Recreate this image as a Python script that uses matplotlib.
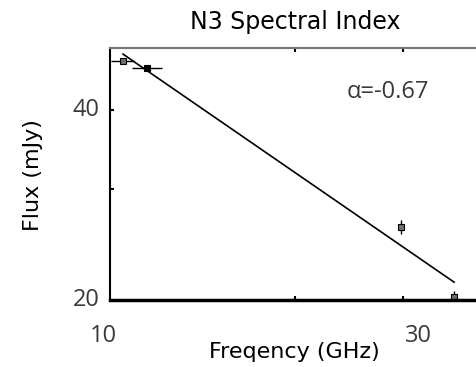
import numpy as np
from matplotlib import pyplot as plt

# flux measurements of N3
freq = [10.5, 11.5, 29.8, 36.3]          # GHz
flux = [47.8, 46.5, 26.1, 20.2]          # mJy
freq_err = [0.45, 0.65, 0.0, 0.0]
flux_err = [0.25, 0.3, 0.7, 0.5]
filled = [False, True, False, False]

# power-law fit S = s0 * (nu / nu0) ** alpha
alpha = -0.67
nu0, s0 = 10.5, 49.0
fit_range = [10.5, 36.3]

x_ticks = [10, 30]
y_ticks = [20, 40]

fig = plt.figure(figsize=(4.76, 3.67), dpi=100)
ax = fig.add_axes([110 / 476, 67 / 367, 370 / 476, 252 / 367])
ax.set_xscale('log')
ax.set_yscale('log')
ax.set_xlim(10, 40)
ax.set_ylim(20, 50.1)

nu = np.linspace(fit_range[0], fit_range[1], 50)
ax.plot(nu, s0 * (nu / nu0) ** alpha, color='black', lw=1.2)

for f, s, fe, se, fill in zip(freq, flux, freq_err, flux_err, filled):
    ax.errorbar(f, s, xerr=fe if fe else None, yerr=se, fmt='s', ms=4,
                mfc='black' if fill else '#6e6e6e', mec='black', mew=0.8,
                ecolor='black', elinewidth=1, capsize=0, clip_on=True)

# IDL-style axes: inward minor ticks only
ax.xaxis.set_major_locator(plt.NullLocator())
ax.yaxis.set_major_locator(plt.NullLocator())
ax.xaxis.set_minor_locator(plt.FixedLocator([20, 30]))
ax.yaxis.set_minor_locator(plt.FixedLocator([30, 40]))
ax.xaxis.set_minor_formatter(plt.NullFormatter())
ax.yaxis.set_minor_formatter(plt.NullFormatter())
ax.tick_params(which='minor', direction='in', length=3, width=1.5,
               top=True, right=False, color='black')
ax.spines['bottom'].set_linewidth(2.5)
ax.spines['left'].set_linewidth(1.5)
ax.spines['top'].set_linewidth(1.5)
ax.spines['top'].set_color('#777777')
ax.spines['right'].set_visible(False)

label_font = dict(family='Open Sans', color='#3a3a3a', fontsize=17)
ax.annotate(str(x_ticks[0]), xy=(x_ticks[0], 0), xycoords=('data', 'axes fraction'),
            xytext=(-5, -26), textcoords='offset points', ha='center', va='center', **label_font)
ax.annotate(str(x_ticks[1]), xy=(x_ticks[1], 0), xycoords=('data', 'axes fraction'),
            xytext=(11, -26), textcoords='offset points', ha='center', va='center', **label_font)
for v in y_ticks:
    ax.annotate(str(v), xy=(0, v), xycoords=('axes fraction', 'data'),
                xytext=(-17, 0), textcoords='offset points', ha='center', va='center', **label_font)

ax.text(0.751, 0.825, 'α=-0.67', transform=ax.transAxes, ha='center', va='center',
        family='Open Sans', color='#3a3a3a', fontsize=17)

fig.text(295 / 476, 1 - 22 / 367, 'N3 Spectral Index', ha='center', va='center',
         fontsize=17, color='black')
fig.text(294 / 476, 1 - 352 / 367, 'Freqency (GHz)', ha='center', va='center',
         fontsize=16, color='black')
fig.text(33 / 476, 1 - 175 / 367, 'Flux (mJy)', ha='center', va='center',
         rotation=90, fontsize=16, color='black')

fig.savefig('out.png', dpi=100)
